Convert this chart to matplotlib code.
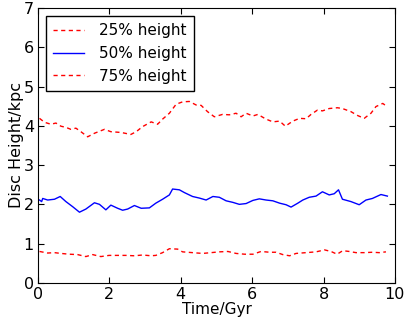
import matplotlib
matplotlib.use("Agg")
import matplotlib.pyplot as plt

# values (Time in Gyr, height in kpc)
t25 = [0.04, 0.18, 0.36, 0.5, 0.64, 0.78, 0.92, 1.06, 1.2, 1.39, 1.58, 1.86, 2.04, 2.33, 2.6, 2.75,
       2.93, 3.17, 3.35, 3.49, 3.68, 3.87, 4.05, 4.24, 4.43, 4.57, 4.75, 4.94, 5.17, 5.36, 5.55,
       5.69, 5.83, 6.02, 6.16, 6.39, 6.58, 6.77, 6.93, 7.14, 7.33, 7.51, 7.65, 7.83, 7.97, 8.16,
       8.39, 8.53, 8.77, 8.96, 9.14, 9.33, 9.47, 9.66, 9.75]
h25 = [4.19, 4.09, 4.04, 4.07, 3.99, 3.96, 3.91, 3.94, 3.85, 3.72, 3.81, 3.91, 3.85, 3.83, 3.78, 3.85,
       3.98, 4.1, 4.04, 4.17, 4.32, 4.55, 4.61, 4.62, 4.53, 4.52, 4.36, 4.23, 4.29, 4.28, 4.32,
       4.23, 4.32, 4.25, 4.29, 4.17, 4.1, 4.12, 3.99, 4.12, 4.19, 4.18, 4.29, 4.4, 4.38, 4.44,
       4.46, 4.44, 4.36, 4.26, 4.19, 4.32, 4.49, 4.57, 4.51]

t50 = [0.04, 0.1, 0.13, 0.27, 0.46, 0.62, 0.78, 0.97, 1.16, 1.34, 1.58, 1.72, 1.9, 2.04, 2.23, 2.37,
       2.51, 2.7, 2.89, 3.12, 3.3, 3.49, 3.68, 3.77, 3.96, 4.1, 4.33, 4.52, 4.71, 4.9, 5.08, 5.27,
       5.46, 5.64, 5.83, 6.02, 6.2, 6.39, 6.58, 6.77, 6.95, 7.09, 7.28, 7.42, 7.6, 7.79, 7.97, 8.16,
       8.3, 8.42, 8.53, 8.77, 9.0, 9.19, 9.37, 9.61, 9.79]
h50 = [2.11, 2.07, 2.15, 2.11, 2.13, 2.2, 2.07, 1.94, 1.8, 1.88, 2.04, 2.0, 1.86, 1.98, 1.9, 1.85,
       1.88, 1.97, 1.9, 1.91, 2.03, 2.13, 2.24, 2.39, 2.37, 2.3, 2.2, 2.16, 2.11, 2.2, 2.18, 2.09,
       2.05, 2.0, 2.02, 2.1, 2.14, 2.11, 2.09, 2.03, 1.99, 1.93, 2.03, 2.11, 2.18, 2.21, 2.32, 2.24,
       2.27, 2.37, 2.13, 2.07, 1.99, 2.11, 2.15, 2.25, 2.21]

t75 = [0.04, 0.27, 0.46, 0.64, 0.88, 1.11, 1.34, 1.53, 1.76, 1.99, 2.23, 2.46, 2.7, 2.93, 3.17, 3.3,
       3.49, 3.68, 3.91, 4.05, 4.33, 4.61, 4.85, 5.08, 5.32, 5.55, 5.79, 6.02, 6.25, 6.49, 6.67,
       6.86, 7.05, 7.23, 7.51, 7.79, 8.03, 8.21, 8.38, 8.54, 8.72, 8.91, 9.14, 9.37, 9.56, 9.75]
h75 = [0.8, 0.76, 0.77, 0.75, 0.73, 0.72, 0.67, 0.72, 0.67, 0.7, 0.7, 0.7, 0.69, 0.71, 0.69, 0.7,
       0.77, 0.87, 0.86, 0.79, 0.77, 0.75, 0.77, 0.79, 0.8, 0.75, 0.73, 0.73, 0.8, 0.78, 0.78,
       0.72, 0.69, 0.75, 0.77, 0.79, 0.84, 0.8, 0.73, 0.82, 0.8, 0.77, 0.77, 0.78, 0.77, 0.79]

fig = plt.figure(figsize=(4.05, 3.2), dpi=100)
ax = fig.add_axes([0.094, 0.116, 0.881, 0.859])

ax.plot(t25, h25, color='red', ls='--', dashes=(3, 2.5), lw=1, label='25% height')
ax.plot(t50, h50, color='blue', ls='-', lw=1, label='50% height')
ax.plot(t75, h75, color='red', ls='--', dashes=(3, 2.5), lw=1, label='75% height')

ax.set_xlim(0, 10)
ax.set_ylim(0, 7)
ax.set_xlabel('Time/Gyr', fontsize=11, labelpad=0)
ax.set_ylabel('Disc Height/kpc', fontsize=11.5, labelpad=0)
ax.tick_params(direction='in', top=True, right=True, labelsize=11.5, length=4, pad=3)

leg = ax.legend(loc='upper left', fontsize=11, fancybox=False, edgecolor='black', framealpha=1,
                handletextpad=1.0, borderpad=0.5, handlelength=2.0, borderaxespad=0.5)
leg.get_frame().set_linewidth(1)

fig.savefig('out.png', dpi=100)
